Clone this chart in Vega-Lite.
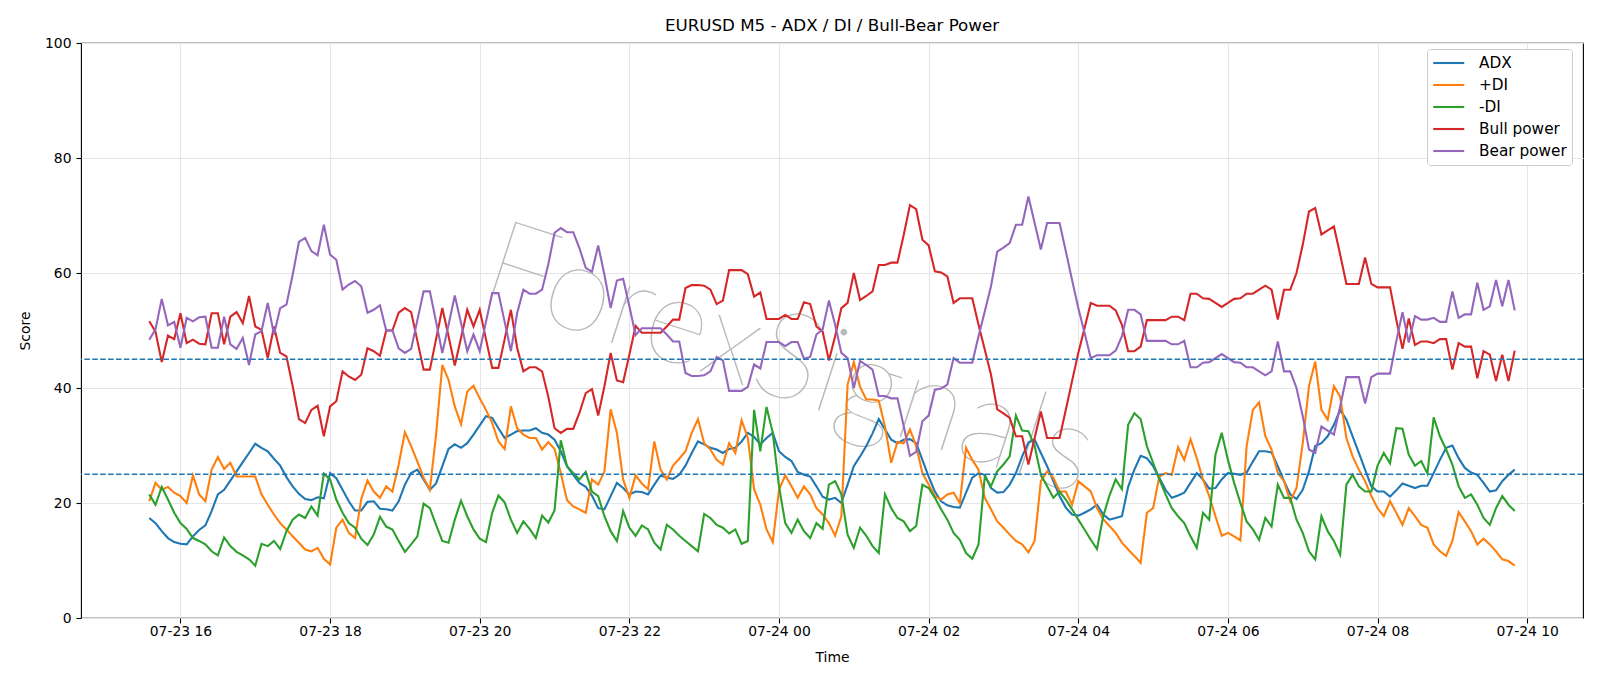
{
"$schema":"https://vega.github.io/schema/vega-lite/v6.json",
"width":1502,"height":575,
"autosize":{"type":"none"},
"padding":{"left":81,"top":43,"right":17,"bottom":68},
"background":"white",
"title":{"text":"EURUSD M5 - ADX / DI / Bull-Bear Power","fontSize":16.7,"font":"DejaVu Sans","fontWeight":"normal","color":"black","anchor":"middle","offset":1},
"config":{
 "view":{"stroke":"black","strokeWidth":1.1},
 "font":"DejaVu Sans",
 "axis":{"labelFont":"DejaVu Sans","titleFont":"DejaVu Sans","labelFontSize":13.9,"titleFontSize":13.9,"titleFontWeight":"normal","labelColor":"black","titleColor":"black","tickColor":"black","tickSize":5,"tickWidth":1.1,"domain":false,"gridColor":"#e6e6e6","gridWidth":1.1}
},
"layer":[
{
"data":{"values":[{"t":"2024-07-24 00:08","y":44.6,"w":"ForexSignals"}]},
"mark":{"type":"text","angle":18,"fontSize":122,"font":"Lato","fontWeight":200,"color":"#a8a8a8","opacity":0.8,"align":"center","baseline":"middle"},
"encoding":{"x":{"field":"t","type":"temporal"},"y":{"field":"y","type":"quantitative"},"text":{"field":"w"}}
},
{
"data":{"values":[
{"t":"2024-07-23 15:35","a":17.4,"p":20.3,"m":21.5,"u":51.6,"e":48.4},
{"t":"2024-07-23 15:40","a":16.5,"p":23.5,"m":19.7,"u":49.8,"e":50.2},
{"t":"2024-07-23 15:45","a":15.1,"p":22.3,"m":22.8,"u":44.5,"e":55.5},
{"t":"2024-07-23 15:50","a":13.9,"p":22.8,"m":20.6,"u":49.1,"e":50.9},
{"t":"2024-07-23 15:55","a":13.2,"p":21.8,"m":18.3,"u":48.5,"e":51.5},
{"t":"2024-07-23 16:00","a":12.9,"p":21.2,"m":16.5,"u":53.0,"e":47.0},
{"t":"2024-07-23 16:05","a":12.8,"p":20.0,"m":15.5,"u":47.8,"e":52.2},
{"t":"2024-07-23 16:10","a":14.2,"p":24.8,"m":13.9,"u":48.4,"e":51.6},
{"t":"2024-07-23 16:15","a":15.3,"p":21.5,"m":13.4,"u":47.7,"e":52.3},
{"t":"2024-07-23 16:20","a":16.1,"p":20.3,"m":12.8,"u":47.6,"e":52.4},
{"t":"2024-07-23 16:25","a":18.6,"p":25.8,"m":11.6,"u":53.0,"e":47.0},
{"t":"2024-07-23 16:30","a":21.5,"p":28.0,"m":10.9,"u":53.0,"e":47.0},
{"t":"2024-07-23 16:35","a":22.3,"p":25.9,"m":14.0,"u":47.6,"e":52.4},
{"t":"2024-07-23 16:40","a":23.9,"p":27.0,"m":12.5,"u":52.4,"e":47.6},
{"t":"2024-07-23 16:45","a":25.5,"p":24.6,"m":11.5,"u":53.2,"e":46.8},
{"t":"2024-07-23 16:50","a":27.1,"p":24.6,"m":10.9,"u":51.3,"e":48.7},
{"t":"2024-07-23 16:55","a":28.7,"p":24.6,"m":10.2,"u":56.0,"e":44.0},
{"t":"2024-07-23 17:00","a":30.3,"p":24.6,"m":9.1,"u":50.7,"e":49.3},
{"t":"2024-07-23 17:05","a":29.6,"p":21.5,"m":12.9,"u":50.1,"e":49.9},
{"t":"2024-07-23 17:10","a":29.0,"p":19.7,"m":12.5,"u":45.2,"e":54.8},
{"t":"2024-07-23 17:15","a":27.7,"p":18.0,"m":13.4,"u":50.7,"e":49.3},
{"t":"2024-07-23 17:20","a":26.5,"p":16.5,"m":12.0,"u":46.1,"e":53.9},
{"t":"2024-07-23 17:25","a":24.5,"p":15.4,"m":15.1,"u":45.5,"e":54.5},
{"t":"2024-07-23 17:30","a":22.9,"p":14.2,"m":17.1,"u":40.3,"e":59.7},
{"t":"2024-07-23 17:35","a":21.6,"p":13.1,"m":18.0,"u":34.6,"e":65.4},
{"t":"2024-07-23 17:40","a":20.7,"p":11.9,"m":17.4,"u":33.9,"e":66.1},
{"t":"2024-07-23 17:45","a":20.5,"p":11.6,"m":19.4,"u":36.2,"e":63.8},
{"t":"2024-07-23 17:50","a":21.0,"p":12.2,"m":17.8,"u":36.9,"e":63.1},
{"t":"2024-07-23 17:55","a":20.8,"p":10.3,"m":25.1,"u":31.6,"e":68.4},
{"t":"2024-07-23 18:00","a":25.2,"p":9.3,"m":24.1,"u":36.8,"e":63.2},
{"t":"2024-07-23 18:05","a":24.3,"p":15.7,"m":20.6,"u":37.7,"e":62.3},
{"t":"2024-07-23 18:10","a":22.3,"p":17.1,"m":18.3,"u":42.9,"e":57.1},
{"t":"2024-07-23 18:15","a":20.3,"p":14.8,"m":16.5,"u":42.0,"e":58.0},
{"t":"2024-07-23 18:20","a":18.7,"p":13.9,"m":15.7,"u":41.4,"e":58.6},
{"t":"2024-07-23 18:25","a":18.7,"p":20.7,"m":13.8,"u":42.3,"e":57.7},
{"t":"2024-07-23 18:30","a":20.2,"p":23.9,"m":12.7,"u":46.9,"e":53.1},
{"t":"2024-07-23 18:35","a":20.3,"p":22.0,"m":14.5,"u":46.4,"e":53.6},
{"t":"2024-07-23 18:40","a":19.0,"p":20.9,"m":17.6,"u":45.6,"e":54.4},
{"t":"2024-07-23 18:45","a":18.9,"p":22.9,"m":15.9,"u":50.0,"e":50.0},
{"t":"2024-07-23 18:50","a":18.7,"p":22.0,"m":15.4,"u":50.0,"e":50.0},
{"t":"2024-07-23 18:55","a":20.3,"p":26.7,"m":13.4,"u":53.1,"e":46.9},
{"t":"2024-07-23 19:00","a":23.2,"p":32.3,"m":11.5,"u":53.9,"e":46.1},
{"t":"2024-07-23 19:05","a":25.2,"p":29.9,"m":12.8,"u":53.2,"e":46.8},
{"t":"2024-07-23 19:10","a":25.8,"p":27.2,"m":14.2,"u":48.2,"e":51.8},
{"t":"2024-07-23 19:15","a":24.1,"p":24.4,"m":19.9,"u":43.2,"e":56.8},
{"t":"2024-07-23 19:20","a":22.3,"p":22.3,"m":19.1,"u":43.2,"e":56.8},
{"t":"2024-07-23 19:25","a":23.4,"p":31.9,"m":16.2,"u":48.5,"e":51.5},
{"t":"2024-07-23 19:30","a":26.4,"p":44.0,"m":13.4,"u":53.9,"e":46.1},
{"t":"2024-07-23 19:35","a":29.4,"p":41.4,"m":13.1,"u":49.0,"e":51.0},
{"t":"2024-07-23 19:40","a":30.2,"p":36.8,"m":17.1,"u":43.9,"e":56.1},
{"t":"2024-07-23 19:45","a":29.6,"p":33.7,"m":20.4,"u":48.7,"e":51.3},
{"t":"2024-07-23 19:50","a":30.4,"p":39.4,"m":17.7,"u":53.6,"e":46.4},
{"t":"2024-07-23 19:55","a":31.9,"p":40.4,"m":15.4,"u":50.7,"e":49.3},
{"t":"2024-07-23 20:00","a":33.5,"p":38.2,"m":13.8,"u":53.6,"e":46.4},
{"t":"2024-07-23 20:05","a":35.1,"p":36.2,"m":13.2,"u":48.5,"e":51.5},
{"t":"2024-07-23 20:10","a":34.8,"p":33.9,"m":18.3,"u":43.5,"e":56.5},
{"t":"2024-07-23 20:15","a":33.0,"p":30.7,"m":21.3,"u":43.5,"e":56.5},
{"t":"2024-07-23 20:20","a":31.3,"p":29.4,"m":20.1,"u":48.5,"e":51.5},
{"t":"2024-07-23 20:25","a":31.9,"p":36.8,"m":17.1,"u":53.6,"e":46.4},
{"t":"2024-07-23 20:30","a":32.5,"p":33.0,"m":14.8,"u":47.0,"e":53.0},
{"t":"2024-07-23 20:35","a":32.6,"p":31.9,"m":16.8,"u":42.9,"e":57.1},
{"t":"2024-07-23 20:40","a":32.6,"p":31.3,"m":15.5,"u":43.6,"e":56.4},
{"t":"2024-07-23 20:45","a":33.0,"p":31.3,"m":13.9,"u":43.6,"e":56.4},
{"t":"2024-07-23 20:50","a":32.2,"p":29.3,"m":17.8,"u":42.9,"e":57.1},
{"t":"2024-07-23 20:55","a":31.9,"p":30.6,"m":16.6,"u":38.5,"e":61.5},
{"t":"2024-07-23 21:00","a":31.0,"p":29.4,"m":18.7,"u":33.0,"e":67.0},
{"t":"2024-07-23 21:05","a":29.0,"p":25.2,"m":30.9,"u":32.2,"e":67.8},
{"t":"2024-07-23 21:10","a":26.4,"p":20.5,"m":26.4,"u":32.9,"e":67.1},
{"t":"2024-07-23 21:15","a":24.9,"p":19.4,"m":25.2,"u":32.9,"e":67.1},
{"t":"2024-07-23 21:20","a":23.5,"p":18.9,"m":24.1,"u":35.7,"e":64.3},
{"t":"2024-07-23 21:25","a":22.8,"p":18.3,"m":25.4,"u":39.1,"e":60.9},
{"t":"2024-07-23 21:30","a":21.3,"p":24.1,"m":22.0,"u":39.8,"e":60.2},
{"t":"2024-07-23 21:35","a":19.1,"p":23.2,"m":21.2,"u":35.2,"e":64.8},
{"t":"2024-07-23 21:40","a":18.9,"p":25.5,"m":17.7,"u":40.3,"e":59.7},
{"t":"2024-07-23 21:45","a":21.2,"p":36.3,"m":15.1,"u":46.1,"e":53.9},
{"t":"2024-07-23 21:50","a":23.5,"p":32.2,"m":13.4,"u":41.3,"e":58.7},
{"t":"2024-07-23 21:55","a":22.6,"p":24.1,"m":18.6,"u":41.0,"e":59.0},
{"t":"2024-07-23 22:00","a":21.5,"p":20.9,"m":15.7,"u":45.8,"e":54.2},
{"t":"2024-07-23 22:05","a":22.0,"p":24.8,"m":14.3,"u":50.8,"e":49.2},
{"t":"2024-07-23 22:10","a":21.9,"p":23.4,"m":16.1,"u":49.6,"e":50.4},
{"t":"2024-07-23 22:15","a":21.5,"p":22.4,"m":15.4,"u":49.6,"e":50.4},
{"t":"2024-07-23 22:20","a":23.2,"p":30.7,"m":13.1,"u":49.6,"e":50.4},
{"t":"2024-07-23 22:25","a":24.8,"p":25.8,"m":11.9,"u":49.6,"e":50.4},
{"t":"2024-07-23 22:30","a":24.4,"p":24.1,"m":16.2,"u":50.7,"e":49.3},
{"t":"2024-07-23 22:35","a":24.2,"p":26.5,"m":15.4,"u":51.9,"e":48.1},
{"t":"2024-07-23 22:40","a":24.9,"p":27.7,"m":14.3,"u":51.9,"e":48.1},
{"t":"2024-07-23 22:45","a":26.5,"p":29.0,"m":13.4,"u":57.4,"e":42.6},
{"t":"2024-07-23 22:50","a":28.7,"p":32.2,"m":12.5,"u":57.9,"e":42.1},
{"t":"2024-07-23 22:55","a":30.7,"p":34.6,"m":11.6,"u":57.9,"e":42.1},
{"t":"2024-07-23 23:00","a":30.2,"p":30.4,"m":18.1,"u":57.8,"e":42.2},
{"t":"2024-07-23 23:05","a":29.6,"p":29.3,"m":17.4,"u":57.1,"e":42.9},
{"t":"2024-07-23 23:10","a":29.3,"p":27.5,"m":16.2,"u":54.6,"e":45.4},
{"t":"2024-07-23 23:15","a":28.7,"p":26.7,"m":15.7,"u":55.2,"e":44.8},
{"t":"2024-07-23 23:20","a":29.4,"p":30.4,"m":14.7,"u":60.5,"e":39.5},
{"t":"2024-07-23 23:25","a":29.6,"p":28.7,"m":15.4,"u":60.5,"e":39.5},
{"t":"2024-07-23 23:30","a":30.7,"p":34.4,"m":12.9,"u":60.5,"e":39.5},
{"t":"2024-07-23 23:35","a":32.2,"p":31.3,"m":13.4,"u":59.8,"e":40.2},
{"t":"2024-07-23 23:40","a":31.5,"p":22.4,"m":36.2,"u":55.9,"e":44.1},
{"t":"2024-07-23 23:45","a":30.2,"p":19.7,"m":29.0,"u":56.6,"e":43.4},
{"t":"2024-07-23 23:50","a":31.3,"p":15.4,"m":36.7,"u":52.0,"e":48.0},
{"t":"2024-07-23 23:55","a":32.2,"p":13.2,"m":32.2,"u":52.0,"e":48.0},
{"t":"2024-07-24 00:00","a":29.0,"p":22.3,"m":22.9,"u":52.0,"e":48.0},
{"t":"2024-07-24 00:05","a":28.0,"p":24.8,"m":16.5,"u":52.7,"e":47.3},
{"t":"2024-07-24 00:10","a":27.3,"p":22.9,"m":14.8,"u":52.0,"e":48.0},
{"t":"2024-07-24 00:15","a":25.4,"p":20.9,"m":17.1,"u":52.0,"e":48.0},
{"t":"2024-07-24 00:20","a":24.9,"p":22.9,"m":15.1,"u":54.9,"e":45.1},
{"t":"2024-07-24 00:25","a":24.6,"p":21.5,"m":13.9,"u":54.6,"e":45.4},
{"t":"2024-07-24 00:30","a":22.9,"p":19.1,"m":16.5,"u":50.7,"e":49.3},
{"t":"2024-07-24 00:35","a":21.1,"p":18.0,"m":15.5,"u":49.8,"e":50.2},
{"t":"2024-07-24 00:40","a":20.6,"p":16.5,"m":23.2,"u":44.8,"e":55.2},
{"t":"2024-07-24 00:45","a":20.9,"p":14.3,"m":23.8,"u":49.0,"e":51.0},
{"t":"2024-07-24 00:50","a":20.0,"p":17.7,"m":21.5,"u":53.9,"e":46.1},
{"t":"2024-07-24 00:55","a":23.2,"p":40.6,"m":14.5,"u":54.8,"e":45.2},
{"t":"2024-07-24 01:00","a":26.4,"p":44.5,"m":12.2,"u":60.0,"e":40.0},
{"t":"2024-07-24 01:05","a":28.1,"p":40.2,"m":15.7,"u":55.3,"e":44.7},
{"t":"2024-07-24 01:10","a":29.9,"p":38.0,"m":14.3,"u":56.0,"e":44.0},
{"t":"2024-07-24 01:15","a":32.1,"p":38.0,"m":12.5,"u":56.8,"e":43.2},
{"t":"2024-07-24 01:20","a":34.6,"p":37.8,"m":11.3,"u":61.4,"e":38.6},
{"t":"2024-07-24 01:25","a":32.8,"p":33.3,"m":21.5,"u":61.4,"e":38.6},
{"t":"2024-07-24 01:30","a":31.0,"p":27.0,"m":19.1,"u":61.8,"e":38.2},
{"t":"2024-07-24 01:35","a":30.4,"p":30.6,"m":17.4,"u":61.8,"e":38.2},
{"t":"2024-07-24 01:40","a":31.0,"p":30.4,"m":16.8,"u":66.6,"e":33.4},
{"t":"2024-07-24 01:45","a":31.1,"p":32.8,"m":15.1,"u":71.8,"e":28.2},
{"t":"2024-07-24 01:50","a":30.4,"p":29.9,"m":16.0,"u":71.1,"e":28.9},
{"t":"2024-07-24 01:55","a":27.5,"p":25.2,"m":23.2,"u":65.8,"e":34.2},
{"t":"2024-07-24 02:00","a":24.6,"p":23.2,"m":22.6,"u":64.8,"e":35.2},
{"t":"2024-07-24 02:05","a":22.0,"p":21.2,"m":20.9,"u":60.3,"e":39.7},
{"t":"2024-07-24 02:10","a":20.3,"p":20.6,"m":18.9,"u":60.1,"e":39.9},
{"t":"2024-07-24 02:15","a":19.6,"p":21.5,"m":17.1,"u":59.4,"e":40.6},
{"t":"2024-07-24 02:20","a":19.3,"p":21.8,"m":14.8,"u":54.8,"e":45.2},
{"t":"2024-07-24 02:25","a":19.2,"p":20.0,"m":13.6,"u":55.6,"e":44.4},
{"t":"2024-07-24 02:30","a":21.8,"p":29.6,"m":11.3,"u":55.6,"e":44.4},
{"t":"2024-07-24 02:35","a":24.4,"p":27.5,"m":10.3,"u":55.6,"e":44.4},
{"t":"2024-07-24 02:40","a":25.2,"p":25.8,"m":12.8,"u":51.0,"e":49.0},
{"t":"2024-07-24 02:45","a":24.9,"p":20.9,"m":24.6,"u":46.7,"e":53.3},
{"t":"2024-07-24 02:50","a":22.6,"p":18.9,"m":22.9,"u":42.3,"e":57.7},
{"t":"2024-07-24 02:55","a":21.8,"p":16.8,"m":25.5,"u":36.3,"e":63.7},
{"t":"2024-07-24 03:00","a":21.9,"p":15.7,"m":26.7,"u":35.6,"e":64.4},
{"t":"2024-07-24 03:05","a":23.2,"p":14.5,"m":28.1,"u":34.8,"e":65.2},
{"t":"2024-07-24 03:10","a":25.2,"p":13.4,"m":35.2,"u":31.6,"e":68.4},
{"t":"2024-07-24 03:15","a":28.1,"p":12.8,"m":32.6,"u":31.6,"e":68.4},
{"t":"2024-07-24 03:20","a":30.5,"p":11.4,"m":32.5,"u":26.7,"e":73.3},
{"t":"2024-07-24 03:25","a":31.0,"p":13.4,"m":29.9,"u":31.3,"e":68.7},
{"t":"2024-07-24 03:30","a":28.7,"p":23.8,"m":24.9,"u":35.9,"e":64.1},
{"t":"2024-07-24 03:35","a":26.4,"p":25.5,"m":22.9,"u":31.3,"e":68.7},
{"t":"2024-07-24 03:40","a":23.8,"p":24.4,"m":20.9,"u":31.3,"e":68.7},
{"t":"2024-07-24 03:45","a":21.2,"p":22.0,"m":22.0,"u":31.3,"e":68.7},
{"t":"2024-07-24 03:50","a":19.2,"p":22.0,"m":20.6,"u":36.2,"e":63.8},
{"t":"2024-07-24 03:55","a":18.0,"p":19.7,"m":18.9,"u":41.2,"e":58.8},
{"t":"2024-07-24 04:00","a":17.8,"p":23.8,"m":17.1,"u":46.1,"e":53.9},
{"t":"2024-07-24 04:05","a":18.3,"p":22.9,"m":15.4,"u":50.4,"e":49.6},
{"t":"2024-07-24 04:10","a":18.9,"p":22.0,"m":13.6,"u":54.8,"e":45.2},
{"t":"2024-07-24 04:15","a":19.7,"p":19.1,"m":12.0,"u":54.3,"e":45.7},
{"t":"2024-07-24 04:20","a":18.0,"p":17.2,"m":17.7,"u":54.3,"e":45.7},
{"t":"2024-07-24 04:25","a":17.1,"p":16.0,"m":21.3,"u":54.3,"e":45.7},
{"t":"2024-07-24 04:30","a":17.4,"p":14.8,"m":24.1,"u":53.5,"e":46.5},
{"t":"2024-07-24 04:35","a":17.7,"p":13.1,"m":22.4,"u":51.0,"e":49.0},
{"t":"2024-07-24 04:40","a":22.8,"p":11.9,"m":33.6,"u":46.4,"e":53.6},
{"t":"2024-07-24 04:45","a":25.8,"p":10.8,"m":35.6,"u":46.4,"e":53.6},
{"t":"2024-07-24 04:50","a":28.2,"p":9.6,"m":34.6,"u":47.2,"e":52.8},
{"t":"2024-07-24 04:55","a":27.8,"p":18.3,"m":29.9,"u":51.8,"e":48.2},
{"t":"2024-07-24 05:00","a":26.4,"p":19.1,"m":27.0,"u":51.8,"e":48.2},
{"t":"2024-07-24 05:05","a":24.4,"p":24.6,"m":24.1,"u":51.8,"e":48.2},
{"t":"2024-07-24 05:10","a":22.3,"p":25.2,"m":21.5,"u":51.8,"e":48.2},
{"t":"2024-07-24 05:15","a":20.9,"p":24.9,"m":19.1,"u":52.4,"e":47.6},
{"t":"2024-07-24 05:20","a":21.3,"p":29.7,"m":17.7,"u":52.4,"e":47.6},
{"t":"2024-07-24 05:25","a":21.8,"p":27.5,"m":16.5,"u":51.8,"e":48.2},
{"t":"2024-07-24 05:30","a":23.5,"p":31.1,"m":14.2,"u":56.4,"e":43.6},
{"t":"2024-07-24 05:35","a":25.2,"p":27.8,"m":12.2,"u":56.4,"e":43.6},
{"t":"2024-07-24 05:40","a":24.1,"p":24.1,"m":18.3,"u":55.6,"e":44.4},
{"t":"2024-07-24 05:45","a":22.5,"p":21.2,"m":17.1,"u":55.5,"e":44.5},
{"t":"2024-07-24 05:50","a":22.6,"p":17.7,"m":28.4,"u":54.8,"e":45.2},
{"t":"2024-07-24 05:55","a":24.1,"p":14.3,"m":32.2,"u":54.1,"e":45.9},
{"t":"2024-07-24 06:00","a":25.2,"p":14.8,"m":27.5,"u":54.8,"e":45.2},
{"t":"2024-07-24 06:05","a":25.1,"p":14.2,"m":23.5,"u":55.5,"e":44.5},
{"t":"2024-07-24 06:10","a":24.9,"p":13.5,"m":20.0,"u":55.6,"e":44.4},
{"t":"2024-07-24 06:15","a":25.3,"p":29.9,"m":16.8,"u":56.4,"e":43.6},
{"t":"2024-07-24 06:20","a":27.2,"p":36.2,"m":15.4,"u":56.4,"e":43.6},
{"t":"2024-07-24 06:25","a":29.0,"p":37.5,"m":13.6,"u":57.1,"e":42.9},
{"t":"2024-07-24 06:30","a":29.0,"p":31.6,"m":17.4,"u":57.8,"e":42.2},
{"t":"2024-07-24 06:35","a":28.8,"p":29.3,"m":15.9,"u":57.1,"e":42.9},
{"t":"2024-07-24 06:40","a":26.4,"p":25.2,"m":23.2,"u":51.9,"e":48.1},
{"t":"2024-07-24 06:45","a":23.8,"p":23.8,"m":20.9,"u":57.1,"e":42.9},
{"t":"2024-07-24 06:50","a":21.5,"p":20.3,"m":20.9,"u":57.1,"e":42.9},
{"t":"2024-07-24 06:55","a":20.7,"p":22.6,"m":17.1,"u":60.0,"e":40.0},
{"t":"2024-07-24 07:00","a":22.3,"p":30.4,"m":14.8,"u":64.9,"e":35.1},
{"t":"2024-07-24 07:05","a":25.5,"p":40.3,"m":11.6,"u":70.7,"e":29.3},
{"t":"2024-07-24 07:10","a":29.9,"p":44.6,"m":10.2,"u":71.3,"e":28.7},
{"t":"2024-07-24 07:15","a":30.4,"p":36.2,"m":17.7,"u":66.7,"e":33.3},
{"t":"2024-07-24 07:20","a":31.6,"p":34.5,"m":15.1,"u":67.4,"e":32.6},
{"t":"2024-07-24 07:25","a":33.6,"p":40.3,"m":13.4,"u":68.1,"e":31.9},
{"t":"2024-07-24 07:30","a":36.2,"p":38.5,"m":11.0,"u":63.2,"e":36.8},
{"t":"2024-07-24 07:35","a":34.5,"p":31.3,"m":23.2,"u":58.1,"e":41.9},
{"t":"2024-07-24 07:40","a":31.6,"p":28.1,"m":24.9,"u":58.1,"e":41.9},
{"t":"2024-07-24 07:45","a":28.7,"p":25.8,"m":22.9,"u":58.1,"e":41.9},
{"t":"2024-07-24 07:50","a":25.8,"p":23.8,"m":22.0,"u":62.7,"e":37.3},
{"t":"2024-07-24 07:55","a":22.9,"p":21.2,"m":22.0,"u":58.1,"e":41.9},
{"t":"2024-07-24 08:00","a":22.0,"p":19.1,"m":26.5,"u":57.5,"e":42.5},
{"t":"2024-07-24 08:05","a":22.0,"p":17.7,"m":28.7,"u":57.5,"e":42.5},
{"t":"2024-07-24 08:10","a":21.1,"p":20.3,"m":26.9,"u":57.5,"e":42.5},
{"t":"2024-07-24 08:15","a":22.2,"p":18.3,"m":33.0,"u":51.9,"e":48.1},
{"t":"2024-07-24 08:20","a":23.4,"p":16.2,"m":32.9,"u":46.8,"e":53.2},
{"t":"2024-07-24 08:25","a":23.0,"p":19.1,"m":28.4,"u":52.1,"e":47.9},
{"t":"2024-07-24 08:30","a":22.6,"p":17.7,"m":26.5,"u":47.5,"e":52.5},
{"t":"2024-07-24 08:35","a":23.0,"p":16.2,"m":27.3,"u":48.1,"e":51.9},
{"t":"2024-07-24 08:40","a":23.0,"p":15.7,"m":25.1,"u":48.1,"e":51.9},
{"t":"2024-07-24 08:45","a":25.2,"p":12.8,"m":34.9,"u":47.8,"e":52.2},
{"t":"2024-07-24 08:50","a":27.5,"p":11.6,"m":31.6,"u":48.5,"e":51.5},
{"t":"2024-07-24 08:55","a":29.6,"p":10.8,"m":29.3,"u":48.5,"e":51.5},
{"t":"2024-07-24 09:00","a":30.0,"p":13.4,"m":26.7,"u":43.2,"e":56.8},
{"t":"2024-07-24 09:05","a":27.8,"p":18.4,"m":22.9,"u":47.8,"e":52.2},
{"t":"2024-07-24 09:10","a":26.1,"p":16.8,"m":20.9,"u":47.2,"e":52.8},
{"t":"2024-07-24 09:15","a":25.3,"p":15.1,"m":21.5,"u":47.2,"e":52.8},
{"t":"2024-07-24 09:20","a":24.9,"p":12.8,"m":19.7,"u":41.7,"e":58.3},
{"t":"2024-07-24 09:25","a":23.5,"p":13.8,"m":17.4,"u":46.4,"e":53.6},
{"t":"2024-07-24 09:30","a":22.0,"p":12.8,"m":16.2,"u":45.8,"e":54.2},
{"t":"2024-07-24 09:35","a":22.2,"p":11.6,"m":19.1,"u":41.2,"e":58.8},
{"t":"2024-07-24 09:40","a":23.8,"p":10.2,"m":21.2,"u":45.8,"e":54.2},
{"t":"2024-07-24 09:45","a":24.9,"p":9.9,"m":19.7,"u":41.2,"e":58.8},
{"t":"2024-07-24 09:50","a":25.8,"p":9.1,"m":18.6,"u":46.5,"e":53.5}
]},
"transform":[{"fold":["a","p","m","u","e"],"as":["s","v"]}],
"mark":{"type":"line","strokeWidth":2.1},
"encoding":{
 "x":{"field":"t","type":"temporal",
  "scale":{"domain":[{"year":2024,"month":7,"date":23,"hours":14,"minutes":40,"seconds":15},{"year":2024,"month":7,"date":24,"hours":10,"minutes":44,"seconds":45}],"nice":false},
  "axis":{"format":"%m-%d %H","title":"Time","labelAngle":0,"grid":true,"labelFlush":false,"labelPadding":1,"titlePadding":13,
   "values":[{"year":2024,"month":7,"date":23,"hours":16},{"year":2024,"month":7,"date":23,"hours":18},{"year":2024,"month":7,"date":23,"hours":20},{"year":2024,"month":7,"date":23,"hours":22},{"year":2024,"month":7,"date":24,"hours":0},{"year":2024,"month":7,"date":24,"hours":2},{"year":2024,"month":7,"date":24,"hours":4},{"year":2024,"month":7,"date":24,"hours":6},{"year":2024,"month":7,"date":24,"hours":8},{"year":2024,"month":7,"date":24,"hours":10}]}},
 "y":{"field":"v","type":"quantitative","scale":{"domain":[0,100],"nice":false,"zero":false},
  "axis":{"values":[0,20,40,60,80,100],"title":"Score","grid":true,"labelPadding":5,"titlePadding":12}},
 "color":{"field":"s","type":"nominal",
  "scale":{"domain":["a","p","m","u","e"],"range":["#1f77b4","#ff7f0e","#2ca02c","#d62728","#9467bd"]},
  "legend":{"title":null,"orient":"none","legendX":1346,"legendY":6,"symbolType":"M-1,0H3","symbolSize":240,"symbolStrokeWidth":2.1,"labelFontSize":15.3,"labelFont":"DejaVu Sans","labelColor":"black","labelOffset":29,"rowPadding":4,"padding":5,"strokeColor":"#cccccc","fillColor":"white","cornerRadius":3,
   "labelExpr":"datum.label=='a'?'ADX':datum.label=='p'?'+DI':datum.label=='m'?'-DI':datum.label=='u'?'Bull power':'Bear power'"}}
}
},
{
"data":{"values":[{"h":45},{"h":25}]},
"mark":{"type":"rule","color":"#1f77b4","strokeDash":[5.5,2.4],"strokeWidth":1.4},
"encoding":{"y":{"field":"h","type":"quantitative"}}
}
]
}
